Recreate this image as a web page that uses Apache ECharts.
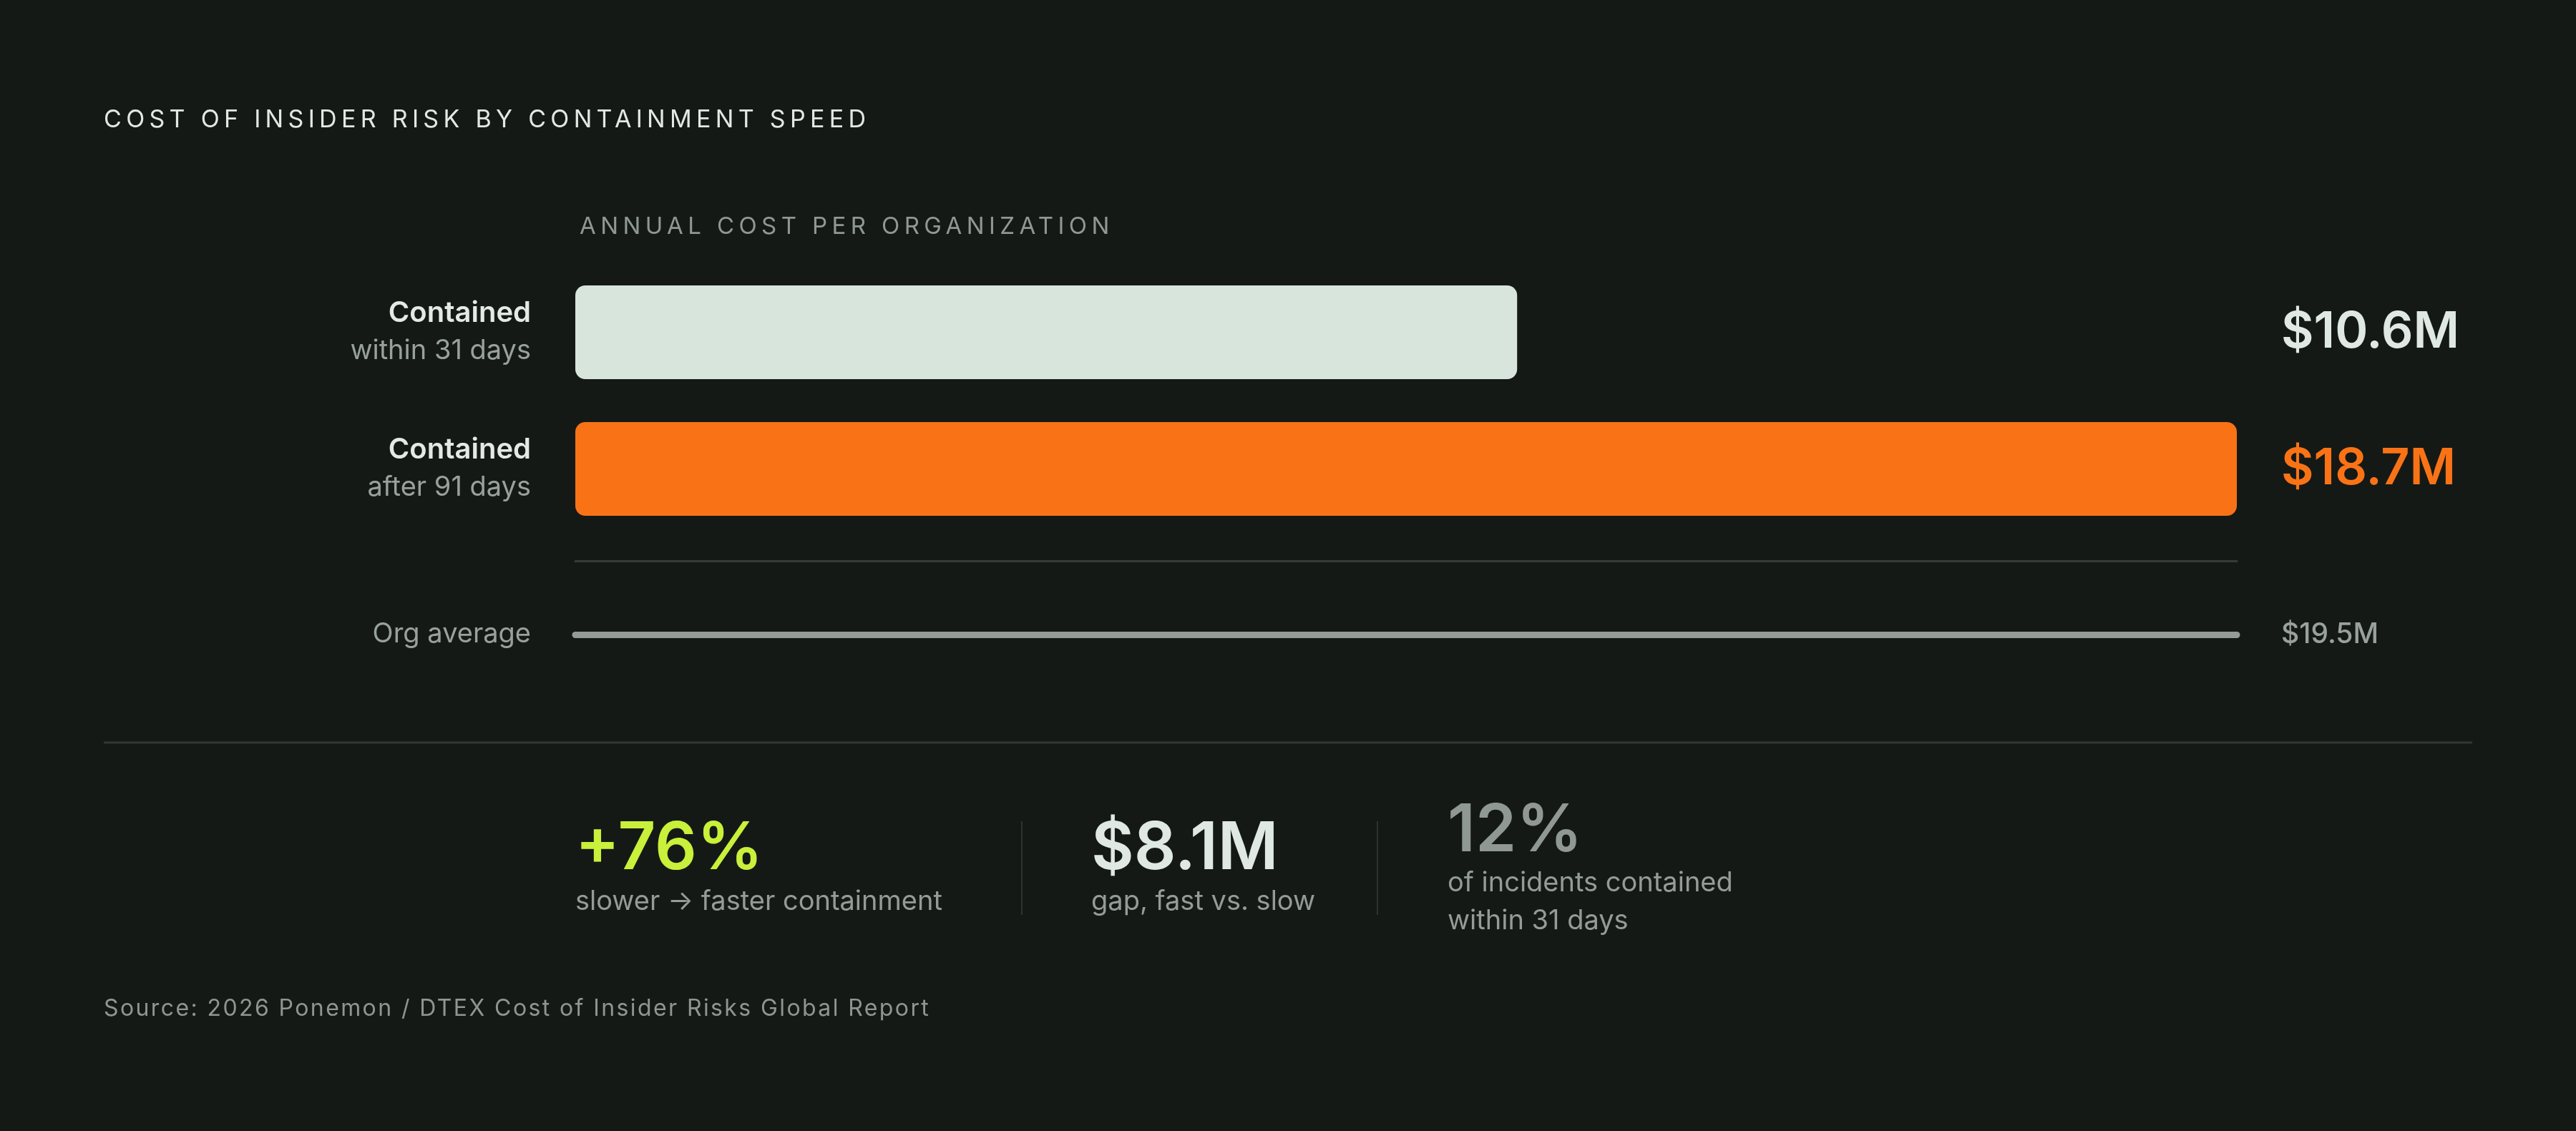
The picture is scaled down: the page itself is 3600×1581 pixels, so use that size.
<!DOCTYPE html>
<html>
<head>
<meta charset="utf-8">
<title>Cost of insider risk by containment speed</title>
<script src="https://cdn.jsdelivr.net/npm/echarts@6.0.0/dist/echarts.min.js"></script>
<style>
  html, body { margin: 0; padding: 0; background: #151916; }
  #chart { width: 3600px; height: 1581px; }
</style>
</head>
<body>
<div id="chart"></div>
<script>
// data
var rowTitles = ['Contained', 'Contained'];
var rowSubs = ['within 31 days', 'after 91 days'];
var costs = [10.6, 18.7];              // $M per organization
var orgLabel = 'Org average';
var orgAverage = 19.5;                 // $M
var statValues = ['+76%', '$8.1M', '12%'];
var statCaptions = [
  ['slower \u2192 faster containment'],
  ['gap, fast vs. slow'],
  ['of incidents contained', 'within 31 days']
];

var TITLE = 'COST OF INSIDER RISK BY CONTAINMENT SPEED';
var SUBTITLE = 'ANNUAL COST PER ORGANIZATION';
var SOURCE = 'Source: 2026 Ponemon / DTEX Cost of Insider Risks Global Report';

var FONT = 'Inter, "Noto Sans", sans-serif';
var BG = '#151916';
var LIGHT = '#d8e5dc';
var ORANGE = '#f97316';
var MUTED = '#939c96';
var barColors = [LIGHT, ORANGE];
var valueColors = ['#dfe8e2', ORANGE];

// tracked (letter-spaced) headings: canvas letterSpacing only for these left aligned strings
var tracking = {};
tracking[TITLE] = '6.3px';
tracking[SUBTITLE] = '6.4px';
tracking[SOURCE] = '2.4px';
var origFillText = CanvasRenderingContext2D.prototype.fillText;
CanvasRenderingContext2D.prototype.fillText = function(t) {
  var ls = tracking[t];
  if ('letterSpacing' in this) {
    var want = ls || '0px';
    if (this.letterSpacing !== want) {
      var f = this.font;
      this.letterSpacing = want;
      // re-set the font so the new spacing is picked up
      this.font = '10px serif';
      this.font = f;
    }
  }
  return origFillText.apply(this, arguments);
};

var chart = echarts.init(document.getElementById('chart'));

// stats row
var statX = [804, 1525, 2023];
var statY = [1187, 1187, 1162];
var statColors = ['#c9f03a', '#dfe8e2', '#8f9893'];
var graphics = [];

graphics.push({
  type: 'text', x: 145, y: 168,
  style: { text: TITLE, fill: '#e2e8e4',
    fontSize: 34, fontFamily: FONT, verticalAlign: 'middle', textVerticalAlign: 'middle' }
});
graphics.push({
  type: 'text', x: 810, y: 317,
  style: { text: SUBTITLE, fill: '#8f9893',
    fontSize: 33, fontFamily: FONT, verticalAlign: 'middle', textVerticalAlign: 'middle' }
});
// full width rule
graphics.push({
  type: 'line', shape: { x1: 145, y1: 1038, x2: 3455, y2: 1038 },
  style: { stroke: '#323834', lineWidth: 3 }
});

for (var i = 0; i < statValues.length; i++) {
  graphics.push({
    type: 'text', x: statX[i], y: statY[i],
    style: { text: statValues[i], fill: statColors[i], fontSize: 92, fontWeight: 600,
      fontFamily: FONT, verticalAlign: 'middle', textVerticalAlign: 'middle' }
  });
  var caps = statCaptions[i];
  for (var j = 0; j < caps.length; j++) {
    var cy = caps.length > 1 ? 1235 + j * 53 : 1261;
    graphics.push({
      type: 'text', x: statX[i], y: cy,
      style: { text: caps[j], fill: MUTED, fontSize: 38, fontFamily: FONT,
        verticalAlign: 'middle', textVerticalAlign: 'middle' }
    });
  }
}
// dividers between the stats
[1428, 1925].forEach(function(x) {
  graphics.push({
    type: 'line', shape: { x1: x, y1: 1148, x2: x, y2: 1279 },
    style: { stroke: '#2c322e', lineWidth: 2 }
  });
});

graphics.push({
  type: 'text', x: 145, y: 1410,
  style: { text: SOURCE, fill: '#8e9691',
    fontSize: 32, fontFamily: FONT, verticalAlign: 'middle', textVerticalAlign: 'middle' }
});

var maxCost = Math.max.apply(null, costs);
var categories = rowTitles.map(function(t, k) { return t + ' ' + rowSubs[k]; });

var option = {
  backgroundColor: BG,
  animation: false,
  textStyle: { fontFamily: FONT },
  grid: [
    { left: 804, right: 474, top: 369, height: 382 },
    { left: 804, right: 474, top: 784, height: 206 }
  ],
  xAxis: [
    { gridIndex: 0, type: 'value', min: 0, max: maxCost, show: false },
    { gridIndex: 1, type: 'value', min: 0, max: maxCost, position: 'top',
      axisLine: { show: true, lineStyle: { color: '#363c38', width: 3 } },
      axisTick: { show: false }, axisLabel: { show: false }, splitLine: { show: false } }
  ],
  yAxis: [
    { gridIndex: 0, type: 'category', inverse: true, data: categories,
      axisLine: { show: false }, axisTick: { show: false },
      axisLabel: {
        margin: 62,
        formatter: function(v, idx) {
          return '{b|' + rowTitles[idx] + '}\n{s|' + rowSubs[idx] + '}';
        },
        rich: {
          b: { fontSize: 40, fontWeight: 600, color: '#e3e9e5', lineHeight: 53, align: 'right', fontFamily: FONT },
          s: { fontSize: 38, color: '#98a19b', lineHeight: 53, align: 'right', fontFamily: FONT }
        }
      }
    },
    { gridIndex: 0, type: 'category', inverse: true, position: 'right', data: categories,
      axisLine: { show: false }, axisTick: { show: false },
      axisLabel: {
        margin: 62,
        formatter: function(v, idx) { return '{v' + idx + '|$' + costs[idx] + 'M}'; },
        rich: {
          v0: { fontSize: 70, fontWeight: 600, color: valueColors[0], fontFamily: FONT },
          v1: { fontSize: 70, fontWeight: 600, color: valueColors[1], fontFamily: FONT }
        }
      }
    },
    { gridIndex: 1, type: 'category', data: [orgLabel],
      axisLine: { show: false }, axisTick: { show: false },
      axisLabel: { margin: 62, fontSize: 38, color: '#98a19b', fontFamily: FONT }
    },
    { gridIndex: 1, type: 'category', position: 'right', data: [orgLabel],
      axisLine: { show: false }, axisTick: { show: false },
      axisLabel: { margin: 62, fontSize: 39, fontWeight: 500, color: '#98a19b', fontFamily: FONT,
        formatter: function() { return '$' + orgAverage + 'M'; } }
    }
  ],
  series: [
    {
      type: 'bar', xAxisIndex: 0, yAxisIndex: 0, barWidth: 131,
      data: costs.map(function(c, k) {
        return { value: c, itemStyle: { color: barColors[k], borderRadius: 14 } };
      }),
      silent: true
    },
    {
      type: 'line', xAxisIndex: 1, yAxisIndex: 2, showSymbol: false, silent: true,
      data: [[orgAverage, orgLabel]],
      markLine: {
        silent: true, symbol: 'none', label: { show: false },
        lineStyle: { color: '#949c97', width: 9, type: 'solid', cap: 'round' },
        data: [{ yAxis: orgLabel }]
      }
    }
  ],
  graphic: graphics
};

chart.setOption(option);
</script>
</body>
</html>
